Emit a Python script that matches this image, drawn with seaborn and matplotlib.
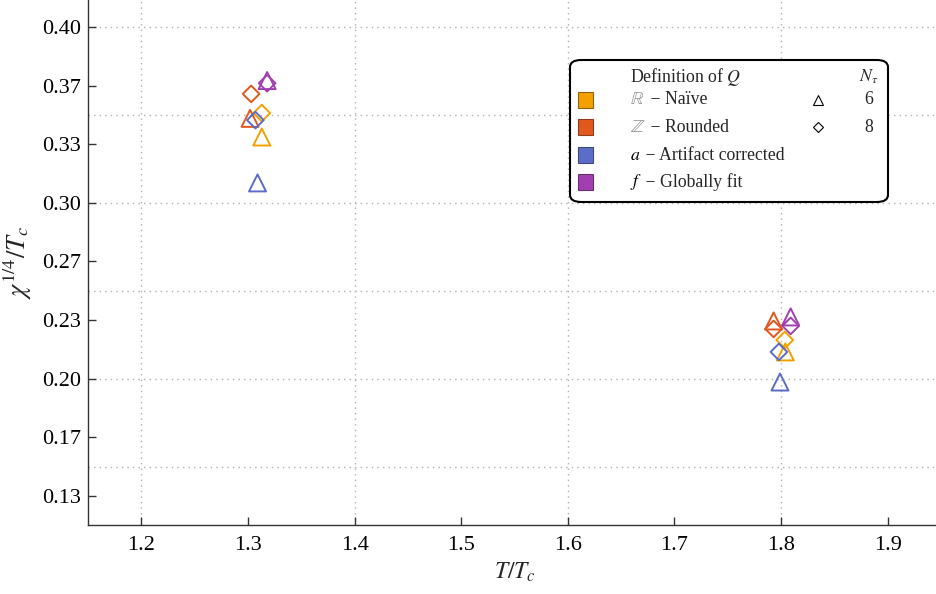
import matplotlib
matplotlib.use("Agg")
import matplotlib.pyplot as plt
from matplotlib.patches import FancyBboxPatch, Rectangle
import pandas as pd
import seaborn as sns

# data
definitions = ["naive", "rounded", "artifact", "fit"]
def_colors = ["#F2A100", "#E2581C", "#5B6DC8", "#A23FB0"]
def_labels = [r"$\mathbb{R}$", r"$\mathbb{Z}$", r"$a$", r"$f$"]
def_texts = [" \u2212 Na\u00efve", " \u2212 Rounded", " \u2212 Artifact corrected", " \u2212 Globally fit"]
n_tau = [6, 8]

# T/Tc and chi^(1/4)/Tc per definition, N_tau = 6 (triangles)
x_nt6 = {"naive": [1.313, 1.804], "rounded": [1.302, 1.793],
         "artifact": [1.309, 1.799], "fit": [1.318, 1.809]}
y_nt6 = {"naive": [0.3374, 0.2152], "rounded": [0.3480, 0.2328],
         "artifact": [0.3113, 0.1981], "fit": [0.3695, 0.2351]}
# N_tau = 8 (diamonds)
x_nt8 = {"naive": [1.313, 1.8035], "rounded": [1.303, 1.793],
         "artifact": [1.307, 1.798], "fit": [1.318, 1.809]}
y_nt8 = {"naive": [0.3510, 0.2220], "rounded": [0.3619, 0.2283],
         "artifact": [0.3470, 0.2152], "fit": [0.3680, 0.2300]}

x_ticks = [1.2, 1.3, 1.4, 1.5, 1.6, 1.7, 1.8, 1.9]
y_ticks = [0.40, 0.4 - 1 / 30, 0.4 - 2 / 30, 0.30, 0.3 - 1 / 30, 0.3 - 2 / 30, 0.20, 0.2 - 1 / 30, 0.2 - 2 / 30]
x_grid = [1.2, 1.4, 1.6, 1.8]
y_grid = [0.15, 0.20, 0.25, 0.30, 0.35, 0.40]

rows = []
for d in definitions:
    for x, y in zip(x_nt6[d], y_nt6[d]):
        rows.append({"T": x, "chi": y, "Q": d, "Nt": 6})
    for x, y in zip(x_nt8[d], y_nt8[d]):
        rows.append({"T": x, "chi": y, "Q": d, "Nt": 8})
df = pd.DataFrame(rows)

sns.set_theme(style="white")
plt.rcParams["font.family"] = ["Liberation Serif", "DejaVu Serif"]
plt.rcParams["mathtext.fontset"] = "stix"

W, H = 936, 594
fig = plt.figure(figsize=(W / 100, H / 100), dpi=100)
ax = fig.add_axes([88 / W, 1 - 525 / H, (941 - 88) / W, 525 / H])

for g in x_grid:
    ax.axvline(g, color="#b0b0b0", lw=1.0, ls=(0, (1, 3)), zorder=0)
for g in y_grid:
    ax.axhline(g, color="#b0b0b0", lw=1.0, ls=(0, (1, 3)), zorder=0)

sns.scatterplot(data=df, x="T", y="chi", hue="Q", hue_order=definitions,
                palette=dict(zip(definitions, def_colors)),
                style="Nt", markers={6: "^", 8: "D"},
                size="Nt", sizes={6: 150, 8: 72},
                legend=False, ax=ax, zorder=3)
pts = ax.collections[-1]
pts.set_edgecolors(pts.get_facecolors())
pts.set_facecolors("none")
pts.set_linewidths(1.4)

ax.set_xlim(1.15, 1.95)
ax.set_ylim(0.1168, 0.4153)
ax.set_xticks(x_ticks)
ax.set_xticklabels([f"{t:.1f}" for t in x_ticks])
ax.set_yticks(y_ticks)
ax.set_yticklabels([f"{t:.2f}" for t in y_ticks])
ax.tick_params(axis="both", direction="in", length=6, width=1, colors="#333333",
               labelsize=16, labelcolor="black", left=True, bottom=True)
ax.tick_params(axis="x", pad=8)
ax.tick_params(axis="y", pad=5)
for side in ["top", "right"]:
    ax.spines[side].set_visible(False)
for side in ["left", "bottom"]:
    ax.spines[side].set_color("#333333")
    ax.spines[side].set_linewidth(1.0)

ax.set_xlabel(r"$T/T_c$", fontsize=17, labelpad=4)
ax.set_ylabel(r"$\chi^{1/4}/T_c$", fontsize=19, labelpad=6)


# hand-made legend box, placed in figure pixels
def fx(px):
    return px / W


def fy(py):
    return 1 - py / H


box = FancyBboxPatch((fx(570), fy(202)), fx(888) - fx(570), fy(60) - fy(202),
                     boxstyle="round,pad=0,rounding_size=0.012",
                     transform=fig.transFigure, facecolor="white",
                     edgecolor="black", lw=1.5, zorder=5)
fig.patches.append(box)

fs = 12.8
fig.text(fx(630), fy(77), r"Definition of $Q$", fontsize=fs, va="center", ha="left", zorder=6)
fig.text(fx(869), fy(77), r"$N_\tau$", fontsize=fs, va="center", ha="center", zorder=6)
row_y = [100, 127, 155, 182]
for i, yy in enumerate(row_y):
    fig.patches.append(Rectangle((fx(578), fy(yy + 7.5)), fx(15), 15 / H,
                                 transform=fig.transFigure, facecolor=def_colors[i],
                                 edgecolor=sns.dark_palette(def_colors[i], 3)[1],
                                 lw=0.8, zorder=6))
    lab_col = "#8a8a8a" if i < 2 else "black"
    fig.text(fx(630), fy(yy), def_labels[i], fontsize=fs, va="center", ha="left",
             color=lab_col, zorder=6)
    offset = 16 if i < 2 else 11
    fig.text(fx(630 + offset), fy(yy), def_texts[i], fontsize=fs, va="center", ha="left", zorder=6)

for j, (mk, ms) in enumerate([("^", 7), ("D", 5)]):
    fig.add_artist(plt.Line2D([fx(818)], [fy(row_y[j])], marker=mk, markersize=ms,
                              markerfacecolor="none", markeredgecolor="black",
                              markeredgewidth=0.8, ls="none", transform=fig.transFigure, zorder=6))
    fig.text(fx(869), fy(row_y[j]), str(n_tau[j]), fontsize=fs, va="center", ha="center", zorder=6)

fig.savefig("out.png", dpi=100)
